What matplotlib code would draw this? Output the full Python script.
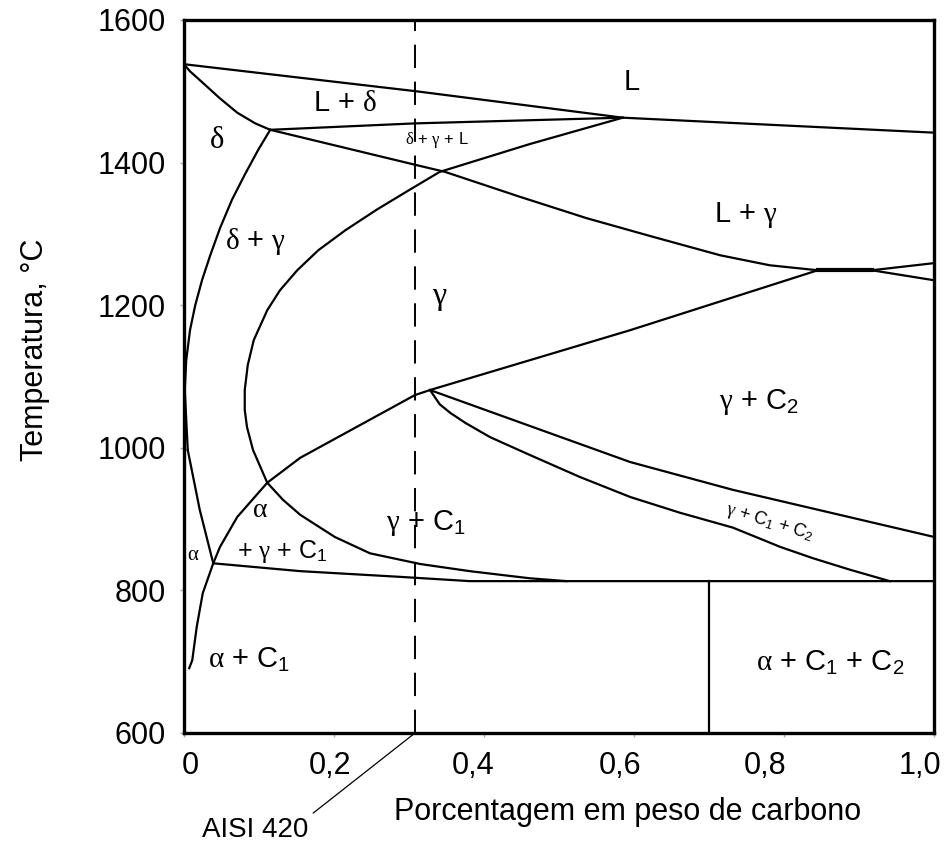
import matplotlib
matplotlib.use("Agg")
import matplotlib.pyplot as plt
from matplotlib.transforms import ScaledTranslation

plt.rcParams['font.family'] = ['Liberation Sans', 'DejaVu Sans']
plt.rcParams['mathtext.fontset'] = 'custom'
plt.rcParams['mathtext.rm'] = 'Liberation Sans'
plt.rcParams['mathtext.it'] = 'Liberation Serif'
plt.rcParams['mathtext.bf'] = 'Liberation Sans:bold'

# Fe-13Cr-C pseudo-binary section: carbon (wt %) vs temperature (°C)
liquidus_c = [0.0, 0.31, 0.585, 1.0]
liquidus_t = [1538, 1500, 1463, 1442]

delta_solidus_c = [0.0, 0.008, 0.025, 0.048, 0.071, 0.095, 0.115]
delta_solidus_t = [1538, 1528, 1512, 1490, 1470, 1455, 1446]

peritectic_top_c = [0.115, 0.308, 0.585]
peritectic_top_t = [1446, 1455, 1463]

gamma_solidus_c = [0.115, 0.308, 0.348, 0.448, 0.537, 0.625, 0.715, 0.781, 0.845]
gamma_solidus_t = [1446, 1397, 1387, 1352, 1322, 1296, 1270, 1256, 1249]

gamma_loop_c = [0.585, 0.461, 0.341, 0.301, 0.257, 0.215, 0.179, 0.151, 0.128, 0.111,
                0.093, 0.085, 0.081, 0.081, 0.084, 0.092, 0.111, 0.132, 0.155, 0.201,
                0.248, 0.315, 0.381, 0.461, 0.51]
gamma_loop_t = [1463, 1426, 1387, 1362, 1334, 1305, 1277, 1249, 1221, 1193,
                1151, 1116, 1081, 1053, 1029, 997, 951, 927, 906, 875,
                852, 837, 827, 817, 813]

delta_boundary_c = [0.115, 0.099, 0.081, 0.064, 0.048, 0.035, 0.024, 0.015, 0.008,
                    0.003, 0.001, 0.003, 0.005]
delta_boundary_t = [1446, 1418, 1383, 1348, 1308, 1270, 1235, 1200, 1165,
                    1123, 1081, 1039, 997]

alpha_gamma_c = [0.005, 0.021, 0.039]
alpha_gamma_t = [997, 913, 838]

alpha_solvus_c = [0.039, 0.025, 0.017, 0.011, 0.007]
alpha_solvus_t = [838, 796, 749, 702, 691]

eutectoid_c = [0.039, 0.155, 0.288, 0.381, 1.0]
eutectoid_t = [838, 827, 819, 813, 813]

acm_c = [0.039, 0.048, 0.071, 0.111, 0.155, 0.308, 0.328, 0.595, 0.845]
acm_t = [838, 861, 903, 951, 986, 1074, 1081, 1165, 1249]

eutectic_c = [0.845, 0.917]
eutectic_t = [1249, 1249]
right_upper_c = [0.917, 1.0]
right_upper_t = [1249, 1259]
right_lower_c = [0.917, 1.0]
right_lower_t = [1249, 1235]

c2_upper_c = [0.328, 0.595, 0.732, 1.0]
c2_upper_t = [1081, 980, 941, 875]
c2_lower_c = [0.328, 0.341, 0.355, 0.375, 0.408, 0.461, 0.528, 0.595, 0.661,
              0.732, 0.795, 0.839, 0.888, 0.941]
c2_lower_t = [1081, 1061, 1049, 1035, 1015, 990, 959, 931, 909,
              888, 861, 845, 829, 813]

carbide_split_c = 0.70
aisi420_c = 0.308

x_ticks = [0, 0.2, 0.4, 0.6, 0.8, 1.0]
x_tick_labels = ["0", "0,2", "0,4", "0,6", "0,8", "1,0"]
x_label_shift_px = [6, -4, -11, -14, -19, -14]
y_ticks = [600, 800, 1000, 1200, 1400, 1600]

# phase field labels: (text, carbon, temperature, size, rotation)
region_labels = [
    ("L", 0.597, 1513, 21, 0),
    (r"L + $\delta$", 0.215, 1484, 21, 0),
    (r"$\delta$", 0.044, 1432, 22, 0),
    (r"$\delta$ + $\gamma$ + L", 0.337, 1431, 12, 0),
    (r"$\delta$ + $\gamma$", 0.095, 1289, 21, 0),
    (r"$\gamma$", 0.341, 1210, 23, 0),
    (r"L + $\gamma$", 0.749, 1327, 21, 0),
    (r"$\gamma$ + C$_2$", 0.767, 1064, 21, 0),
    (r"$\alpha$", 0.101, 913, 20, 0),
    (r"$\alpha$", 0.012, 851, 15, 0),
    (r"+ $\gamma$ + C$_1$", 0.131, 854, 18, 0),
    (r"$\gamma$ + C$_1$", 0.323, 895, 21, 0),
    (r"$\gamma$ + C$_1$ + C$_2$", 0.781, 896, 13, -17),
    (r"$\alpha$ + C$_1$", 0.087, 702, 21, 0),
    (r"$\alpha$ + C$_1$ + C$_2$", 0.861, 698, 21, 0),
]

fig = plt.figure(figsize=(9.52, 8.5), dpi=100)
ax = fig.add_axes([184 / 952, 1 - 733 / 850, 750 / 952, 713 / 850])

lw = 1.6
boundaries = [
    (liquidus_c, liquidus_t), (delta_solidus_c, delta_solidus_t),
    (peritectic_top_c, peritectic_top_t), (gamma_solidus_c, gamma_solidus_t),
    (gamma_loop_c, gamma_loop_t), (delta_boundary_c, delta_boundary_t),
    (alpha_gamma_c, alpha_gamma_t), (alpha_solvus_c, alpha_solvus_t),
    (eutectoid_c, eutectoid_t), (acm_c, acm_t),
    (eutectic_c, eutectic_t), (right_upper_c, right_upper_t),
    (right_lower_c, right_lower_t), (c2_upper_c, c2_upper_t),
    (c2_lower_c, c2_lower_t),
]
for cs, ts in boundaries:
    ax.plot(cs, ts, color="black", lw=lw, solid_joinstyle="round")
ax.plot(eutectic_c, eutectic_t, color="black", lw=3)

ax.plot([carbide_split_c, carbide_split_c], [eutectoid_t[-1], 600], color="black", lw=lw)

# AISI 420 composition
ax.axvline(aisi420_c, color="black", lw=1.4, ls=(0, (12, 7)))
ax.annotate("AISI 420", xy=(aisi420_c, 600), xycoords="data",
            xytext=(255, 20), textcoords="figure pixels",
            ha="center", va="center", fontsize=20,
            arrowprops=dict(arrowstyle="-", lw=0.9, color="black",
                            relpos=(1.0, 1.0), shrinkA=2, shrinkB=0),
            annotation_clip=False)

for text, c, t, size, rot in region_labels:
    ax.text(c, t, text, ha="center", va="center", fontsize=size, rotation=rot)

ax.set_xlim(0, 1.0)
ax.set_ylim(600, 1600)
ax.set_xticks(x_ticks)
ax.set_xticklabels(x_tick_labels)
ax.set_yticks(y_ticks)
ax.tick_params(axis="both", labelsize=22, length=3, width=1, color="#aaaaaa", pad=10)
for lab, dx in zip(ax.get_xticklabels(), x_label_shift_px):
    lab.set_transform(lab.get_transform() + ScaledTranslation(dx / 100, 0, fig.dpi_scale_trans))
for sp in ax.spines.values():
    sp.set_linewidth(2.4)

ax.set_xlabel("Porcentagem em peso de carbono", fontsize=22, va="center")
ax.xaxis.set_label_coords(0.592, -0.111)
ax.set_ylabel("Temperatura, °C", fontsize=22, va="center")
ax.yaxis.set_label_coords(-0.199, 0.537)

fig.savefig("out.png", dpi=100)
